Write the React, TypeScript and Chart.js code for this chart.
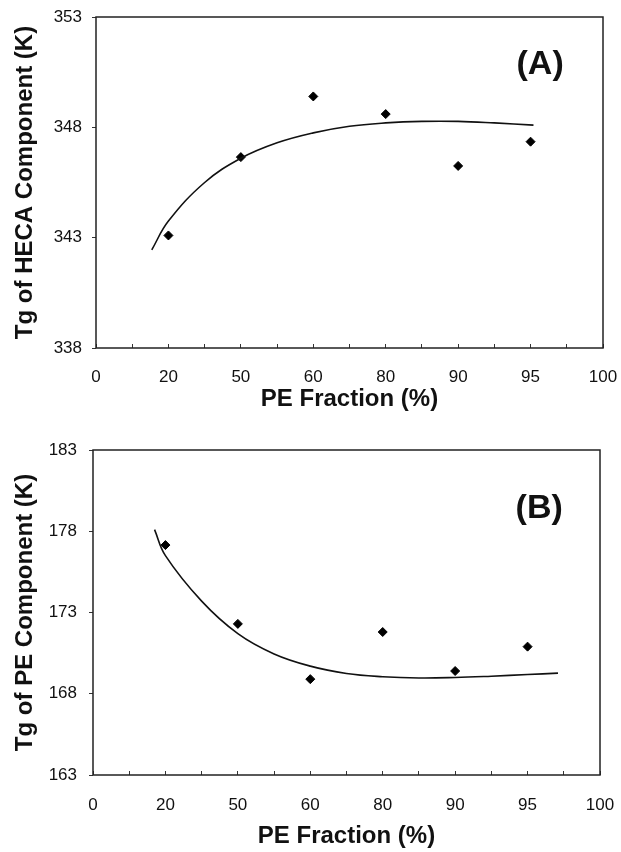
import React, { useEffect, useRef } from 'react';
import { Chart, registerables } from 'chart.js';

Chart.register(...registerables);

// x-axis tick labels (evenly spaced categories on the axis)
const xTickLabels = ['0', '20', '50', '60', '80', '90', '95', '100'];
const peFraction = [20, 50, 60, 80, 90, 95];

// Panel A: Tg of HECA component (K)
const tgHeca = [343.1, 346.65, 349.4, 348.6, 346.25, 347.35];
// fitted curve A (x in axis-tick units, y in K)
const curveAX = [0.77, 1.0, 1.5, 2.0, 2.5, 3.0, 3.5, 4.0, 4.5, 5.0, 5.5, 6.04];
const curveAY = [342.45, 343.75, 345.5, 346.6, 347.3, 347.75, 348.05, 348.2, 348.27, 348.27, 348.2, 348.1];
const yTicksA = { min: 338, max: 353, step: 5 };

// Panel B: Tg of PE component (K)
const tgPe = [177.15, 172.3, 168.9, 171.8, 169.4, 170.9];
const curveBX = [0.85, 1.0, 1.5, 2.0, 2.5, 3.0, 3.5, 4.0, 4.5, 5.0, 5.5, 6.0, 6.42];
const curveBY = [178.1, 176.5, 173.7, 171.7, 170.45, 169.7, 169.25, 169.05, 168.97, 169.0, 169.08, 169.18, 169.27];
const yTicksB = { min: 163, max: 183, step: 5 };

const FONT = "'Liberation Sans', Arial, Helvetica, sans-serif";

const posOf = (v: number) => xTickLabels.indexOf(String(v));

type PanelProps = {
  values: number[];
  curveX: number[];
  curveY: number[];
  yt: { min: number; max: number; step: number };
  yTitle: string;
  tag: string;
  tagPos: [number, number];
  height: number;
  padTop: number;
  padRight: number;
  yWidth: number;
  xHeight: number;
  xLabelPad: number;
  yLabelPad: number;
  xTitlePadBottom: number;
  yTitlePadTop: number;
};

function Panel(p: PanelProps) {
  const ref = useRef<HTMLCanvasElement | null>(null);
  useEffect(() => {
    if (!ref.current) return;
    const framePlugin = {
      id: 'frameAndTag',
      afterDraw(chart: any) {
        const { ctx, chartArea: a } = chart;
        ctx.save();
        ctx.strokeStyle = '#222';
        ctx.lineWidth = 1.5;
        ctx.strokeRect(a.left, a.top, a.right - a.left, a.bottom - a.top);
        ctx.fillStyle = '#111';
        ctx.font = `bold 34px ${FONT}`;
        ctx.textAlign = 'center';
        ctx.textBaseline = 'middle';
        ctx.fillText(p.tag, a.left + (a.right - a.left) * p.tagPos[0], a.top + (a.bottom - a.top) * p.tagPos[1]);
        ctx.restore();
      },
    };
    const chart = new Chart(ref.current, {
      type: 'scatter',
      data: {
        datasets: [
          {
            type: 'line',
            data: p.curveX.map((x, i) => ({ x, y: p.curveY[i] })),
            borderColor: '#111',
            borderWidth: 1.6,
            pointRadius: 0,
            fill: false,
            tension: 0.4,
          } as any,
          {
            type: 'scatter',
            data: peFraction.map((f, i) => ({ x: posOf(f), y: p.values[i] })),
            pointStyle: 'rectRot',
            pointRadius: 4.5,
            backgroundColor: '#000',
            borderColor: '#000',
            borderWidth: 1,
          } as any,
        ],
      },
      options: {
        animation: false,
        responsive: false,
        maintainAspectRatio: false,
        layout: { padding: { top: p.padTop, right: p.padRight, left: 0, bottom: 0 } },
        plugins: { legend: { display: false }, tooltip: { enabled: false } },
        scales: {
          x: {
            type: 'linear',
            min: 0,
            max: 7,
            afterFit(scale: any) {
              scale.height = p.xHeight;
              scale.paddingLeft = 0;
              scale.paddingRight = 0;
            },
            ticks: {
              stepSize: 0.5,
              autoSkip: false,
              maxRotation: 0,
              padding: p.xLabelPad,
              color: '#111',
              font: { family: FONT, size: 17 },
              callback: (v: any) => (Number.isInteger(v) ? xTickLabels[v] : ''),
            },
            grid: { drawOnChartArea: false, drawTicks: true, tickLength: -4, color: '#333', lineWidth: 1 },
            border: { display: false },
            title: {
              display: true,
              text: 'PE Fraction (%)',
              color: '#111',
              font: { family: FONT, size: 24, weight: 'bold', lineHeight: 1.2 },
              padding: { top: 0, bottom: p.xTitlePadBottom },
            },
          },
          y: {
            type: 'linear',
            min: p.yt.min,
            max: p.yt.max,
            afterFit(scale: any) {
              scale.width = p.yWidth;
              scale.paddingTop = 0;
              scale.paddingBottom = 0;
            },
            ticks: {
              stepSize: p.yt.step,
              padding: p.yLabelPad,
              color: '#111',
              font: { family: FONT, size: 17 },
            },
            grid: { drawOnChartArea: false, drawTicks: true, tickLength: 4, color: '#333', lineWidth: 1 },
            border: { display: false },
            title: {
              display: true,
              text: p.yTitle,
              color: '#111',
              font: { family: FONT, size: 24, weight: 'bold', lineHeight: 1.2 },
              padding: { top: p.yTitlePadTop, bottom: 0 },
            },
          },
        },
      },
      plugins: [framePlugin],
    } as any);
    return () => chart.destroy();
  }, []);
  return <canvas ref={ref} width={621} height={p.height} style={{ display: 'block', width: 621, height: p.height }} />;
}

export default function App() {
  return (
    <div style={{ position: 'absolute', left: 0, top: 0, width: 621, height: 852, background: '#fff' }}>
      <Panel
        values={tgHeca}
        curveX={curveAX}
        curveY={curveAY}
        yt={yTicksA}
        yTitle="Tg of HECA Component (K)"
        tag="(A)"
        tagPos={[0.876, 0.145]}
        height={420}
        padTop={17}
        padRight={18}
        yWidth={96}
        xHeight={72}
        xLabelPad={23}
        yLabelPad={10}
        xTitlePadBottom={6}
        yTitlePadTop={11}
      />
      <Panel
        values={tgPe}
        curveX={curveBX}
        curveY={curveBY}
        yt={yTicksB}
        yTitle="Tg of PE Component (K)"
        tag="(B)"
        tagPos={[0.88, 0.18]}
        height={432}
        padTop={30}
        padRight={21}
        yWidth={93}
        xHeight={77}
        xLabelPad={24}
        yLabelPad={12}
        xTitlePadBottom={1}
        yTitlePadTop={11}
      />
    </div>
  );
}
